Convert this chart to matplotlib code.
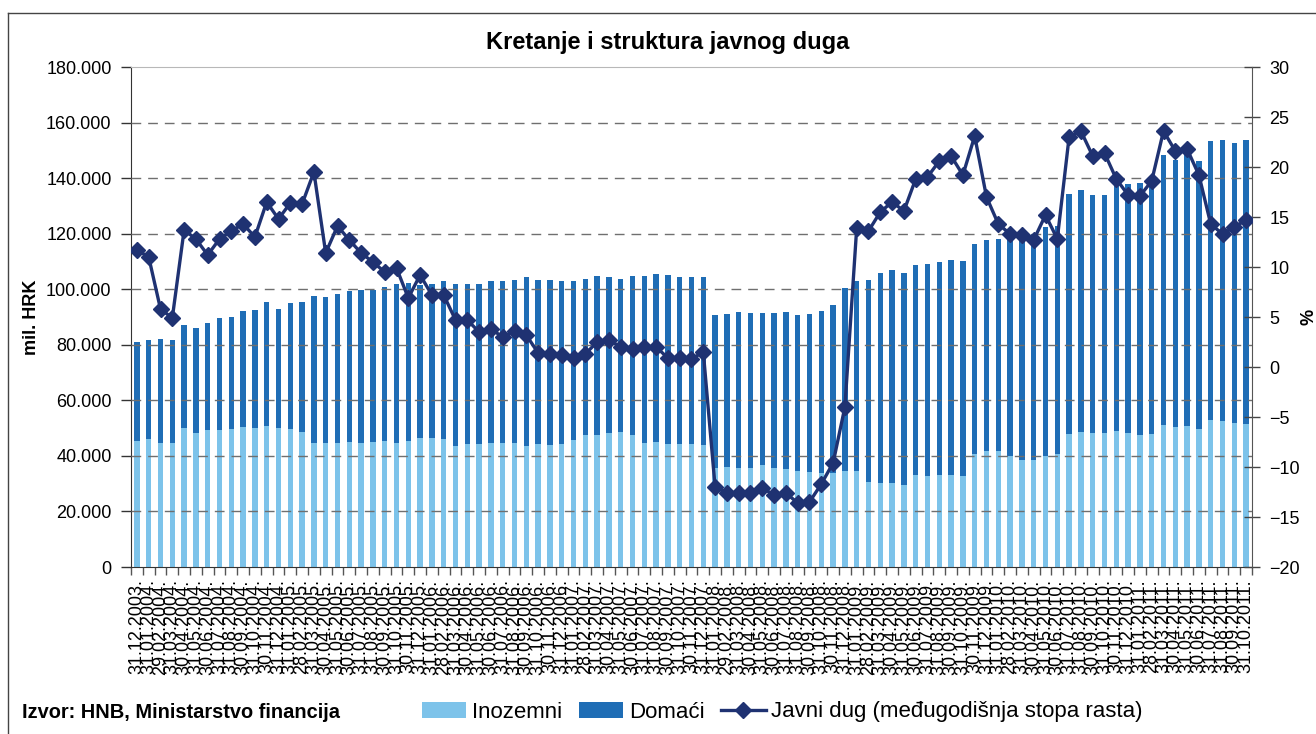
import matplotlib
matplotlib.use("Agg")
import matplotlib.pyplot as plt
from matplotlib.patches import Patch
from matplotlib.lines import Line2D
from matplotlib.ticker import FuncFormatter, FixedLocator
import numpy as np
import pandas as pd

plt.rcParams['font.family'] = ['Liberation Sans', 'DejaVu Sans']

# ---- data ----
dates = [d.strftime('%d.%m.%Y.') for d in pd.date_range('2003-12-01', '2011-10-01', freq='MS') + pd.offsets.MonthEnd(0)]

inozemni = [45500, 46000, 44800, 44500, 49900, 48400, 49300, 49300, 49600, 50500,
            50200, 50900, 49900, 49600, 48700, 44800, 44500, 44500, 45100, 44500,
            45100, 45500, 44800, 45500, 46600, 46600, 46000, 43700, 44200, 44200,
            44500, 44500, 44500, 43700, 44300, 43900, 44300, 45700, 47500, 47500,
            48400, 48600, 47500, 44800, 45100, 44300, 44300, 44300, 43900, 35600,
            36100, 35600, 35600, 36700, 35600, 35300, 34600, 34200, 33700, 33700,
            34600, 34600, 30700, 30400, 30400, 29500, 33100, 32800, 33100, 33100,
            32800, 40700, 41800, 41800, 40000, 38500, 38500, 40000, 40700, 47900,
            48600, 48200, 48200, 49100, 48200, 47500, 47900, 51100, 50400, 50800,
            49800, 52900, 52600, 51800, 51500]

domaci = [35600, 35800, 37300, 37300, 37200, 37800, 38500, 40400, 40400, 41800,
          42500, 44500, 43100, 45500, 46700, 52800, 52700, 53800, 54400, 55300,
          54600, 55300, 57100, 56800, 55100, 55300, 56800, 58200, 57700, 57700,
          58600, 58600, 58800, 60800, 59000, 59400, 58700, 57200, 56200, 57200,
          56000, 55100, 57200, 60000, 60400, 60800, 60100, 60100, 60500, 55100,
          55000, 56200, 55800, 54700, 55800, 56500, 56200, 56900, 58400, 60600,
          65900, 68500, 72600, 75500, 76600, 76300, 75600, 76300, 76700, 77400,
          77400, 75700, 76000, 76300, 78500, 81000, 81500, 82300, 82100, 86400,
          87100, 85700, 85700, 88400, 89600, 90800, 90700, 97200, 96100, 98200,
          96400, 100400, 101200, 100800, 102200]

stopa_rasta = [11.7, 11.0, 5.8, 4.9, 13.7, 12.8, 11.2, 12.8, 13.6, 14.3,
               13.0, 16.5, 14.8, 16.4, 16.3, 19.5, 11.4, 14.1, 12.7, 11.4,
               10.5, 9.5, 9.9, 6.9, 9.2, 7.2, 7.2, 4.7, 4.7, 3.5,
               3.8, 3.0, 3.6, 3.2, 1.4, 1.3, 1.2, 0.9, 1.3, 2.5,
               2.7, 2.0, 1.8, 2.0, 2.0, 0.9, 0.9, 0.8, 1.5, -12.0,
               -12.6, -12.6, -12.6, -12.1, -12.8, -12.6, -13.6, -13.5, -11.7, -9.6,
               -4.0, 13.9, 13.6, 15.5, 16.5, 15.6, 18.8, 19.0, 20.6, 21.1,
               19.2, 23.1, 17.0, 14.3, 13.3, 13.2, 12.7, 15.2, 12.8, 23.0,
               23.6, 21.1, 21.4, 18.8, 17.2, 17.1, 18.6, 23.6, 21.6, 21.8,
               19.2, 14.3, 13.3, 14.0, 14.7]

left_ticks = [0, 20000, 40000, 60000, 80000, 100000, 120000, 140000, 160000, 180000]
right_ticks = [-20, -15, -10, -5, 0, 5, 10, 15, 20, 25, 30]

title = 'Kretanje i struktura javnog duga'
source = 'Izvor: HNB, Ministarstvo financija'
legend_labels = ['Inozemni', 'Domaći', 'Javni dug (međugodišnja stopa rasta)']

# ---- style ----
c_ino = '#7DC3EA'
c_dom = '#1F6DB5'
c_line = '#1F3272'

W, H = 1316, 734
fig = plt.figure(figsize=(W / 100, H / 100), dpi=100)
ax = fig.add_axes([131 / W, 1 - 567 / H, (1252 - 131) / W, (567 - 67) / H])
ax2 = ax.twinx()

x = np.arange(len(dates))
bw = 0.46
ax.bar(x, inozemni, width=bw, color=c_ino, zorder=2)
ax.bar(x, domaci, width=bw, bottom=inozemni, color=c_dom, zorder=2)

for t in left_ticks[1:-1]:
    ax.axhline(t, color='#6f6f6f', lw=1.0, ls=(0, (7, 5)), zorder=3)

ax.set_xlim(-0.5, len(dates) - 0.5)
ax.set_ylim(0, 180000)
ax.set_yticks(left_ticks)
ax.yaxis.set_major_formatter(FuncFormatter(lambda v, p: f'{int(v):,}'.replace(',', '.')))
ax.tick_params(axis='y', labelsize=13, length=7, width=1, direction='out', color='#333333', pad=7)
ax.set_xticks(x)
ax.set_xticklabels(dates, rotation=90, fontsize=13)
ax.tick_params(axis='x', which='major', length=0, pad=9)
ax.xaxis.set_minor_locator(FixedLocator(np.arange(-0.5, len(dates), 1.0)))
ax.tick_params(axis='x', which='minor', length=6, width=1, direction='out', color='#555555')

ax.spines['top'].set_color('#b8b8b8')
ax.spines['right'].set_visible(False)
ax.spines['left'].set_color('#333333')
ax.spines['bottom'].set_color('#333333')

ax2.plot(x, stopa_rasta, color=c_line, lw=2.4, marker='D', markersize=8,
         markerfacecolor=c_line, markeredgecolor=c_line, zorder=5)
ax2.set_ylim(-20, 30)
ax2.set_yticks(right_ticks)
ax2.tick_params(axis='y', labelsize=13, length=11, width=1, direction='inout', color='#444444', pad=7)
for s in ['left', 'top', 'bottom']:
    ax2.spines[s].set_visible(False)
ax2.spines['right'].set_color('#555555')

ax.set_ylabel('mil. HRK', fontsize=13, fontweight='bold')
ax.yaxis.set_label_coords(-(131 - 40) / (1252 - 131), 0.5)
ax2.set_ylabel('%', fontsize=13, fontweight='bold', rotation=90)
ax2.yaxis.set_label_coords(1 + (1300 - 1252) / (1252 - 131), 0.5)

fig.text(668 / W, 1 - 42 / H, title, ha='center', va='center', fontsize=17, fontweight='bold')
fig.text(22 / W, 1 - 712 / H, source, ha='left', va='center', fontsize=14.4, fontweight='bold')

handles = [Patch(facecolor=c_ino), Patch(facecolor=c_dom),
           Line2D([0], [0], color=c_line, lw=2.4, marker='D', markersize=8)]
fig.legend(handles, legend_labels, loc='center left', bbox_to_anchor=(422 / W, 1 - 712 / H),
           ncol=3, frameon=False, fontsize=16, handlelength=2.0, handletextpad=0.25,
           columnspacing=0.75, borderpad=0, borderaxespad=0)

fig.add_artist(Line2D([8 / W, 8 / W], [0, 1 - 13 / H], color='#444444', lw=1, transform=fig.transFigure))
fig.add_artist(Line2D([8 / W, 1], [1 - 13 / H, 1 - 13 / H], color='#444444', lw=1, transform=fig.transFigure))

fig.savefig('out.png', dpi=100)
